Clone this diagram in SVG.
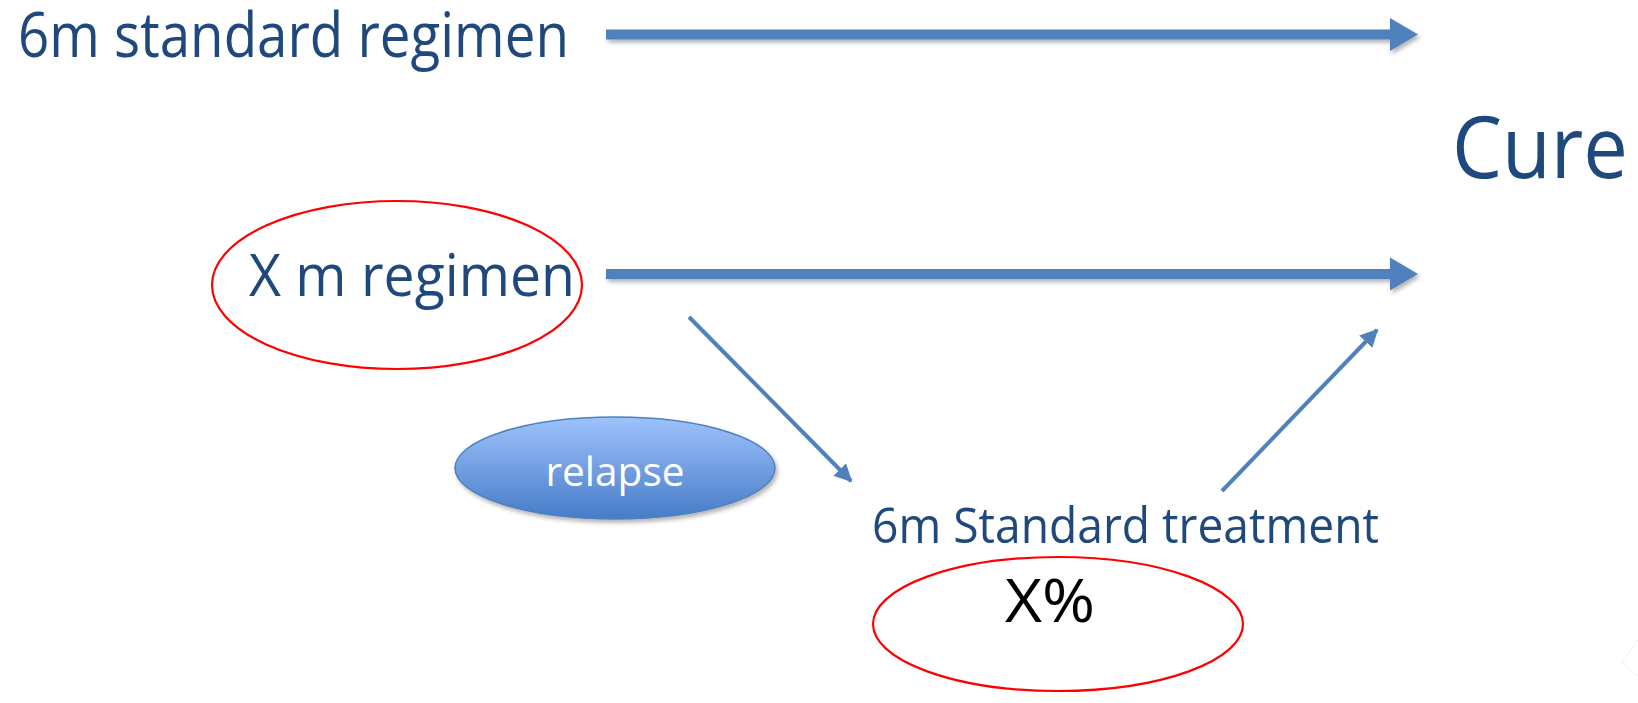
<svg xmlns="http://www.w3.org/2000/svg" width="1638" height="703" viewBox="0 0 1638 703">
<style>
.t{font-family:"Open Sans","Noto Sans",sans-serif;fill:#1f497d}
.red{fill:#fff;stroke:#ff0000;stroke-width:2.2}
.thin{stroke:#4f81bd;stroke-width:4;fill:none}
.thick{fill:#4f81bd}
</style>
<defs>
<linearGradient id="g" x1="0" y1="0" x2="0" y2="1">
<stop offset="0" stop-color="#9ec2fb"/>
<stop offset="1" stop-color="#477cc8"/>
</linearGradient>
<filter id="sh" x="-5%" y="-50%" width="110%" height="200%">
<feDropShadow dx="2" dy="3" stdDeviation="2" flood-color="#000" flood-opacity="0.3"/>
</filter>
<marker id="ah" viewBox="0 0 10 10" refX="9" refY="5" markerWidth="4.5" markerHeight="4.5" orient="auto" markerUnits="strokeWidth">
<path d="M0,0 L10,5 L0,10 z" fill="#4f81bd"/>
</marker>
</defs>
<g id="label-standard"><text class="t" x="18" y="57" font-size="62" textLength="551" lengthAdjust="spacingAndGlyphs">6m standard regimen</text></g>
<g id="node-cure"><text class="t" x="1452" y="178" font-size="86" textLength="176" lengthAdjust="spacingAndGlyphs">Cure</text></g>
<g id="node-xm">
<ellipse class="red" cx="397" cy="285" rx="185" ry="84"/>
<text class="t" x="249" y="296" font-size="58" textLength="326" lengthAdjust="spacingAndGlyphs">X m regimen</text>
</g>
<g id="node-relapse">
<ellipse cx="615" cy="468" rx="160" ry="51" fill="url(#g)" stroke="#4f81bd" stroke-width="1.5" filter="url(#sh)"/>
<text x="615" y="486" font-family="Open Sans,Noto Sans,sans-serif" font-size="40" fill="#fff" text-anchor="middle" textLength="139" lengthAdjust="spacingAndGlyphs">relapse</text>
</g>
<g id="node-6mst"><text class="t" x="872" y="543" font-size="50" textLength="507" lengthAdjust="spacingAndGlyphs">6m Standard treatment</text></g>
<g id="node-xpct">
<ellipse class="red" cx="1058" cy="624" rx="185" ry="67"/>
<text x="1005" y="622" font-family="Open Sans,Noto Sans,sans-serif" font-size="60" fill="#000" textLength="90" lengthAdjust="spacingAndGlyphs">X%</text>
</g>
<g id="connectors">
<polygon class="thick" filter="url(#sh)" points="606,29.5 1390,29.5 1390,18 1418,34.5 1390,51 1390,39.5 606,39.5"/>
<polygon class="thick" filter="url(#sh)" points="606,269 1390,269 1390,257.5 1418,274 1390,290.5 1390,279 606,279"/>
<line class="thin" x1="689" y1="317" x2="851" y2="481" marker-end="url(#ah)"/>
<line class="thin" x1="1222" y1="491" x2="1377" y2="330" marker-end="url(#ah)"/>
</g>
<polyline points="1638,640 1622,663 1638,677" fill="none" stroke="#e4e4e4" stroke-width="1" stroke-dasharray="1.5,1.5"/>
</svg>
